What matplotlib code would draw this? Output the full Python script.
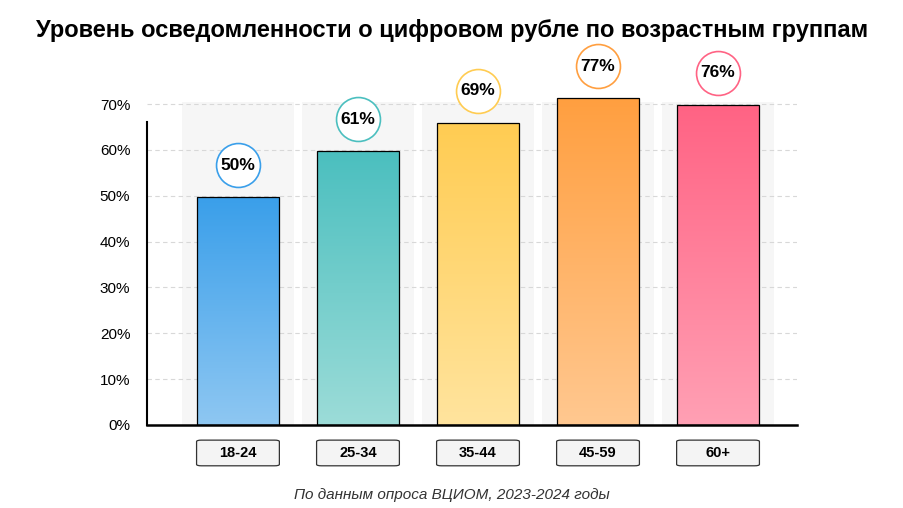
import numpy as np
import matplotlib.pyplot as plt
from matplotlib.patches import Rectangle, FancyBboxPatch
from matplotlib.colors import LinearSegmentedColormap

# Data
groups = ['18-24', '25-34', '35-44', '45-59', '60+']
bar_heights = [49.7, 59.7, 65.9, 71.3, 69.8]
value_labels = ['50%', '61%', '69%', '77%', '76%']
top_colors = ['#3a9fea', '#4bbfbf', '#ffcc52', '#ff9f40', '#ff6384']
bottom_colors = ['#8ec7f2', '#9cdcd8', '#ffe49e', '#ffc890', '#ffa0b4']
yticks = [0, 10, 20, 30, 40, 50, 60, 70]

plt.rcParams['font.family'] = 'Liberation Sans'
fig = plt.figure(figsize=(9.04, 5.08), dpi=100)
ax = fig.add_axes([147/904, 83/508, 650/904, 375/508])
ax.set_xlim(-0.758, 4.658)
ax.set_ylim(0, 81.8)

x = np.arange(len(groups))
width = 0.69

for xi in x:
    ax.add_patch(Rectangle((xi - 0.47, 0), 0.94, 70.5, color='#f6f6f6', zorder=0, lw=0))

for v in yticks[1:]:
    ax.axhline(v, color='#d8d8d8', ls=(0, (4, 3)), lw=0.8, zorder=1)

bars = ax.bar(x, bar_heights, width, color='none', edgecolor='black', lw=0.9, zorder=3)
for i, b in enumerate(bars):
    cmap = LinearSegmentedColormap.from_list('g', [bottom_colors[i], top_colors[i]])
    grad = np.linspace(0, 1, 256).reshape(-1, 1)
    im = ax.imshow(grad, cmap=cmap, aspect='auto', origin='lower', zorder=2,
                   extent=[x[i] - width/2, x[i] + width/2, 0, bar_heights[i]])
    im.set_clip_path(b)
    ax.scatter(x[i], bar_heights[i] + 7, s=1000, facecolor='white',
               edgecolor=top_colors[i], lw=1.2, zorder=4, clip_on=False)
    ax.text(x[i], bar_heights[i] + 7, value_labels[i], ha='center', va='center',
            fontsize=12.5, fontweight='bold', zorder=5)
    # category box below the axis
    box = FancyBboxPatch((x[i] - width/2, -8.9), width, 5.6,
                         boxstyle='round,pad=0,rounding_size=0.04',
                         mutation_aspect=8, fc='#f4f4f4', ec='#333333', lw=0.9,
                         clip_on=False)
    ax.add_patch(box)
    ax.text(x[i], -6.1, groups[i], ha='center', va='center', fontsize=10.5,
            fontweight='bold', clip_on=False)

ax.set_yticks(yticks)
ax.set_yticklabels([f'{v}%' for v in yticks], fontsize=11)
ax.set_xticks([])
ax.tick_params(axis='y', length=0, pad=12)
for s in ['top', 'right']:
    ax.spines[s].set_visible(False)
ax.spines['left'].set_bounds(0, 66)
ax.spines['left'].set_linewidth(1.5)
ax.spines['bottom'].set_linewidth(1.8)

fig.text(0.5, 0.94, 'Уровень осведомленности о цифровом рубле по возрастным группам',
         ha='center', va='center', fontsize=17, fontweight='bold')
fig.text(0.5, 0.026, 'По данным опроса ВЦИОМ, 2023-2024 годы', ha='center',
         va='center', fontsize=11, style='italic', color='#333333')

plt.savefig('out.png', dpi=100)
